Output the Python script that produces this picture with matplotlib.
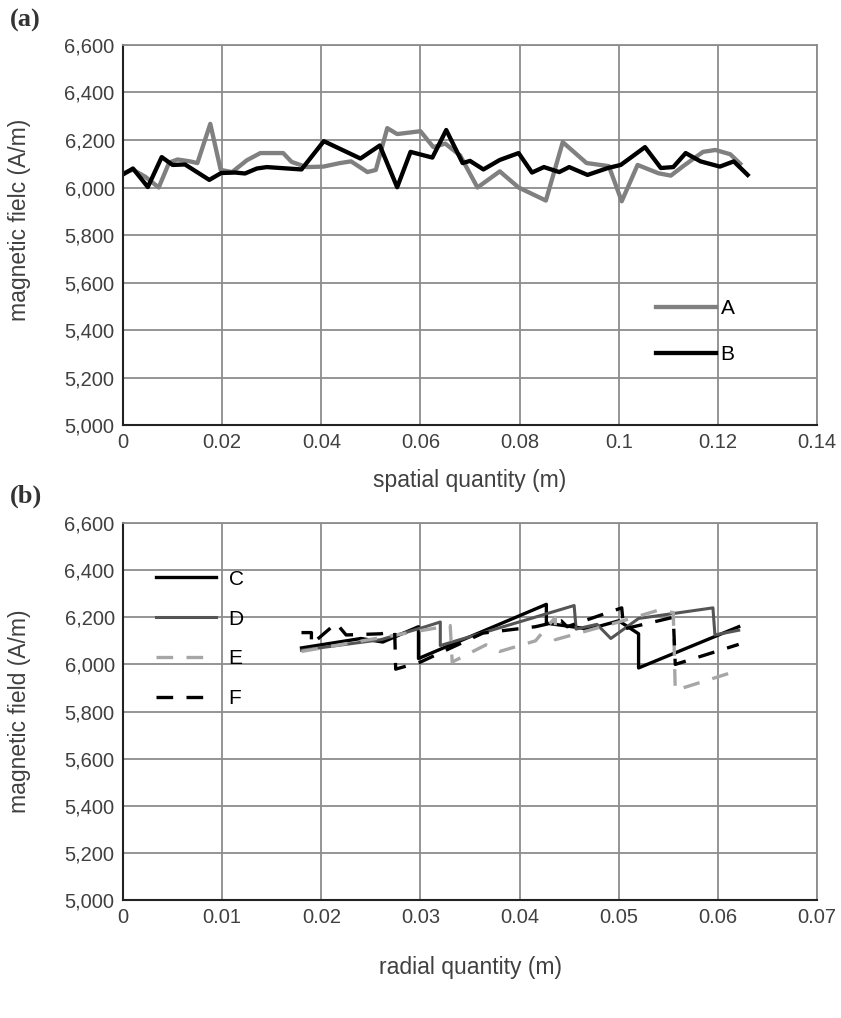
import matplotlib
matplotlib.use("Agg")
import matplotlib.pyplot as plt
from matplotlib.ticker import FuncFormatter, MultipleLocator

plt.rcParams["font.family"] = ["Liberation Sans", "DejaVu Sans"]

# (a) field along the spatial coordinate
x_a = [0, 0.002, 0.0045, 0.0072, 0.0093, 0.011, 0.0135, 0.015, 0.0176, 0.0197,
       0.022, 0.025, 0.0277, 0.0323, 0.034, 0.037, 0.0404, 0.0438, 0.046, 0.0493,
       0.051, 0.0533, 0.0553, 0.060, 0.0626, 0.065, 0.068, 0.0715, 0.076, 0.0798,
       0.0853, 0.0887, 0.0935, 0.098, 0.1006, 0.1038, 0.108, 0.1105, 0.113, 0.117,
       0.1195, 0.1225, 0.1245]
y_a = [6060, 6075, 6045, 6000, 6105, 6118, 6110, 6103, 6268, 6074,
       6065, 6115, 6145, 6145, 6108, 6086, 6088, 6103, 6110, 6065,
       6074, 6250, 6225, 6237, 6170, 6185, 6135, 6000, 6068, 6000,
       5945, 6191, 6103, 6090, 5942, 6095, 6060, 6050, 6090, 6150,
       6158, 6140, 6100]

x_b = [0, 0.002, 0.005, 0.0078, 0.010, 0.0125, 0.0174, 0.0198, 0.0226, 0.0246,
       0.027, 0.029, 0.036, 0.0405, 0.0479, 0.0518, 0.0553, 0.058, 0.0624, 0.0652,
       0.0685, 0.070, 0.0727, 0.076, 0.0798, 0.0825, 0.0849, 0.088, 0.090, 0.0937,
       0.0978, 0.1004, 0.1053, 0.1085, 0.111, 0.1135, 0.1165, 0.1204, 0.1232, 0.126]
y_b = [6055, 6080, 6002, 6128, 6095, 6097, 6032, 6061, 6063, 6059,
       6080, 6086, 6076, 6195, 6122, 6177, 6001, 6150, 6126, 6242,
       6103, 6112, 6076, 6116, 6145, 6063, 6086, 6065, 6086, 6053,
       6082, 6095, 6170, 6082, 6086, 6145, 6110, 6088, 6110, 6053]

# (b) field along the radial coordinate
x_c = [0.018, 0.024, 0.0262, 0.0298, 0.0298, 0.0427, 0.0427, 0.047, 0.050, 0.052, 0.052, 0.0621]
y_c = [6070, 6110, 6095, 6160, 6025, 6255, 6175, 6150, 6185, 6130, 5985, 6160]

x_d = [0.018, 0.026, 0.0305, 0.032, 0.032, 0.0455, 0.0457, 0.0478, 0.0492, 0.052, 0.0595, 0.0597, 0.0621]
y_d = [6060, 6105, 6160, 6180, 6080, 6250, 6150, 6170, 6110, 6195, 6240, 6125, 6145]

x_e = [0.018, 0.033, 0.0332, 0.0366, 0.038, 0.0416, 0.0436, 0.0436, 0.050, 0.054, 0.0555, 0.0557, 0.0621]
y_e = [6055, 6165, 6010, 6083, 6055, 6100, 6200, 6105, 6180, 6230, 6220, 5890, 5975]

x_f = [0.018, 0.019, 0.019, 0.0215, 0.0225, 0.026, 0.0274, 0.0275, 0.030, 0.0363,
       0.0416, 0.0442, 0.0448, 0.0503, 0.0505, 0.0555, 0.0557, 0.0621]
y_f = [6135, 6135, 6085, 6175, 6125, 6130, 6140, 5980, 6010, 6133,
       6160, 6185, 6160, 6240, 6150, 6200, 6000, 6085]

TXT = "#404040"
GRID = "#8c8c8c"


def style_axes(ax, xmax, xstep):
    ax.set_xlim(0, xmax)
    ax.set_ylim(5000, 6600)
    ax.xaxis.set_major_locator(MultipleLocator(xstep))
    ax.yaxis.set_major_locator(MultipleLocator(200))
    ax.xaxis.set_major_formatter(FuncFormatter(lambda v, p: f"{round(v, 4):g}"))
    ax.yaxis.set_major_formatter(FuncFormatter(lambda v, p: f"{int(v):,}"))
    ax.grid(True, color=GRID, linewidth=1.3)
    ax.set_axisbelow(True)
    ax.tick_params(length=0, labelsize=14.5, colors=TXT, pad=6)
    for side in ("top", "right"):
        ax.spines[side].set_color(GRID)
        ax.spines[side].set_linewidth(1.3)
    for side in ("left", "bottom"):
        ax.spines[side].set_color("#222222")
        ax.spines[side].set_linewidth(1.5)


fig = plt.figure(figsize=(8.41, 10.18), dpi=100)
ax1 = fig.add_axes([0.1463, 0.5825, 0.8252, 0.3733])
ax2 = fig.add_axes([0.1463, 0.1159, 0.8252, 0.3703])

ax1.plot(x_a, y_a, color="#808080", lw=3.1, label="A", solid_joinstyle="round")
ax1.plot(x_b, y_b, color="black", lw=3.1, label="B", solid_joinstyle="round")
style_axes(ax1, 0.14, 0.02)
ax1.set_xlabel("spatial quantity (m)", fontsize=16.5, color=TXT)
ax1.set_ylabel("magnetic fielc (A/m)", fontsize=16.5, color=TXT)
ax1.xaxis.set_label_coords(0.5, -0.115)
ax1.yaxis.set_label_coords(-0.133, 0.54)
ax1.legend(loc="center left", bbox_to_anchor=(0.741, 0.245), frameon=False,
           fontsize=15, handlelength=2.9, handletextpad=0.2, labelspacing=1.3)

ax2.plot(x_c, y_c, color="black", lw=2.4, label="C")
ax2.plot(x_d, y_d, color="#555555", lw=2.2, label="D")
ax2.plot(x_e, y_e, color="#a6a6a6", lw=2.4, ls=(0, (5, 4)), label="E")
ax2.plot(x_f, y_f, color="black", lw=2.4, ls=(0, (5, 4)), label="F")
style_axes(ax2, 0.07, 0.01)
ax2.set_xlabel("radial quantity (m)", fontsize=16.5, color=TXT)
ax2.set_ylabel("magnetic field (A/m)", fontsize=16.5, color=TXT)
ax2.xaxis.set_label_coords(0.5, -0.148)
ax2.yaxis.set_label_coords(-0.133, 0.5)
ax2.legend(loc="upper left", bbox_to_anchor=(0.020, 0.926), frameon=False,
           fontsize=15, handlelength=2.9, handletextpad=0.6, labelspacing=1.0)

fig.text(0.012, 0.980, "(a)", fontsize=19, fontweight="bold",
         family="Liberation Serif", color="#333333", va="center")
fig.text(0.012, 0.512, "(b)", fontsize=19, fontweight="bold",
         family="Liberation Serif", color="#333333", va="center")

fig.savefig("out.png", dpi=100)
